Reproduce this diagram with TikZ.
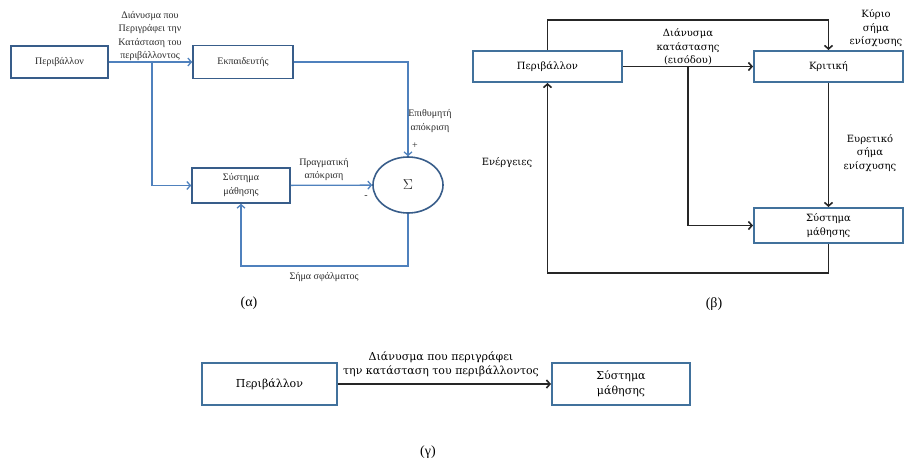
\documentclass[tikz,border=0pt]{standalone}
\usepackage{fontspec}
\setmainfont{Liberation Serif}
\newfontfamily\dvs{DejaVu Serif}
\usetikzlibrary{arrows.meta,shapes.geometric}
\definecolor{boxblue}{HTML}{385D8A}
\definecolor{lineblue}{HTML}{4F81BD}
\definecolor{boxblueb}{HTML}{41719C}
\definecolor{txtgray}{HTML}{2A2A2A}
\begin{document}
\begin{tikzpicture}[x=1pt,y=-1pt,
  tip/.style={-{Straight Barb[length=3.5pt,width=8pt]}},
  abox/.style={draw=boxblue,line width=1.6pt,fill=white,inner sep=0pt,align=center,
    font=\fontsize{10}{14}\selectfont,text=txtgray},
  aline/.style={draw=lineblue,line width=1.3pt},
  alabel/.style={align=center,font=\fontsize{10}{13.5}\selectfont,text=txtgray,inner sep=0pt},
  bbox/.style={draw=boxblueb,line width=2pt,fill=white,inner sep=0pt,align=center,
    font=\dvs\fontsize{10}{14}\selectfont},
  bline/.style={draw=black!85,line width=1.6pt},
  blabel/.style={align=center,font=\dvs\fontsize{10}{13.5}\selectfont,inner sep=0pt},
  gbox/.style={draw=boxblueb,line width=2pt,fill=white,inner sep=0pt,align=center,
    font=\dvs\fontsize{11}{15}\selectfont},
  glabel/.style={align=center,font=\dvs\fontsize{11}{14}\selectfont,inner sep=0pt},
  caption/.style={font=\fontsize{14}{16}\selectfont,inner sep=0pt}]
\useasboundingbox (0,0) rectangle (906,459);

% ---------------- (a) ----------------
\node[abox,minimum width=97pt,minimum height=32pt] (aenv) at (59.5,62) {Περιβάλλον};
\node[abox,minimum width=100pt,minimum height=33pt] (atrain) at (243,62) {Εκπαιδευτής};
\node[abox,minimum width=98pt,minimum height=35pt] (alearn) at (241,185.5) {Σύστημα\\μάθησης};
\node[ellipse,draw=boxblue,line width=1.6pt,minimum width=70pt,minimum height=56pt,inner sep=0pt,
  font=\fontsize{15}{17}\selectfont,text=txtgray] (asum) at (408,185) {$\Sigma$};
\coordinate (abr) at (152,62);
\coordinate (aerr) at (408,266);
\draw[aline,tip] (aenv) -- (atrain);
\draw[aline,tip] (abr) |- (alearn);
\draw[aline,tip] (atrain.east) -| (asum.north);
\draw[aline,tip] (alearn) -- (asum);
\draw[aline,tip] (asum.south) -- (aerr) -| (alearn.south);
\node[alabel] (alab1) at (150,36) {Διάνυσμα που\\Περιγράφει την\\Κατάσταση του\\περιβάλλοντος};
\node[alabel] (alab2) at (430,121) {Επιθυμητή\\απόκριση};
\node[alabel] (aplus) at (415,146) {+};
\node[alabel] (aminus) at (366,197) {-};
\node[alabel] (alab3) at (324,169.5) {Πραγματική\\απόκριση};
\node[alabel] (alab4) at (324,277) {Σήμα σφάλματος};
\node[caption] (capa) at (249,303) {(α)};

% ---------------- (b) ----------------
\node[bbox,minimum width=149pt,minimum height=31pt] (benv) at (547.5,66.5) {Περιβάλλον};
\node[bbox,minimum width=149pt,minimum height=31pt] (bcrit) at (828.5,66.5) {Κριτική};
\node[bbox,minimum width=149pt,minimum height=35pt] (blearn) at (828.5,225.5) {Σύστημα\\μάθησης};
\coordinate (btop) at (547.5,20);
\coordinate (bbr) at (688,66.5);
\coordinate (bbot) at (828.5,273);
\draw[bline,tip] (benv.north) -- (btop) -| (bcrit.north);
\draw[bline,tip] (benv) -- (bcrit);
\draw[bline,tip] (bbr) |- (blearn);
\draw[bline,tip] (bcrit) -- (blearn);
\draw[bline,tip] (blearn.south) -- (bbot) -| (benv.south);
\node[blabel] (blab1) at (688,47) {Διάνυσμα\\κατάστασης\\(εισόδου)};
\node[blabel] (blab2) at (876,28.5) {Κύριο\\σήμα\\ενίσχυσης};
\node[blabel] (blab3) at (870,153) {Ευρετικό\\σήμα\\ενίσχυσης};
\node[blabel] (blab4) at (507,163) {Ενέργειες};
\node[caption] (capb) at (714,304) {(β)};

% ---------------- (c) ----------------
\node[gbox,minimum width=135pt,minimum height=42pt] (genv) at (269.5,384) {Περιβάλλον};
\node[gbox,minimum width=138pt,minimum height=42pt] (glearn) at (621,384) {Σύστημα\\μάθησης};
\draw[bline,tip] (genv) -- (glearn);
\node[glabel] (glab) at (441,364) {Διάνυσμα που περιγράφει\\την κατάσταση του περιβάλλοντος};
\node[caption] (capc) at (428,452) {(γ)};
\end{tikzpicture}
\end{document}
